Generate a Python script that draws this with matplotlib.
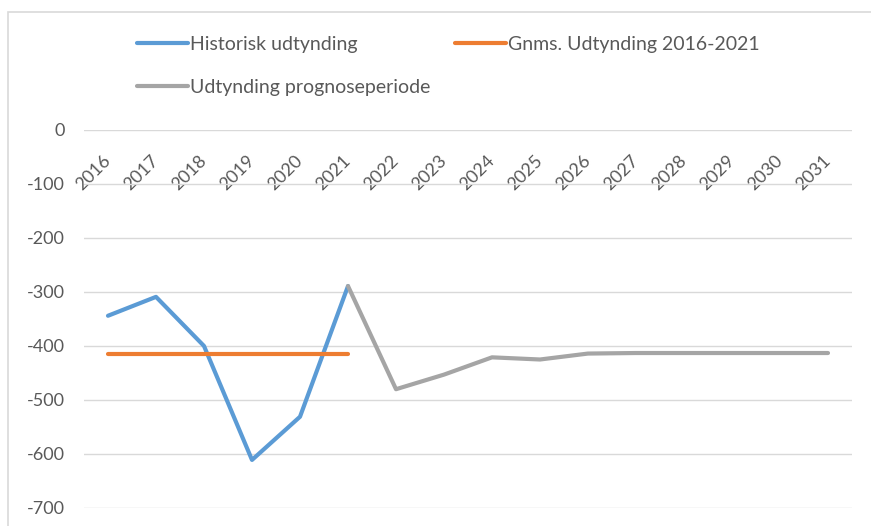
import matplotlib
matplotlib.use("Agg")
import matplotlib.pyplot as plt
from matplotlib.patches import Rectangle
import numpy as np

years = [str(y) for y in range(2016, 2032)]
hist_values = [-344, -309, -400, -611, -531, -289]          # 2016-2021
avg_value = -414                                              # 2016-2021 average
prog_values = [-289, -480, -453, -421, -425, -414, -413, -413, -413, -413, -413]  # 2021-2031
y_ticks = [0, -100, -200, -300, -400, -500, -600, -700]

plt.rcParams['font.family'] = ['Lato', 'DejaVu Sans']

W, H = 871, 526
fig = plt.figure(figsize=(W / 100, H / 100), dpi=100)
fig.patch.set_facecolor('white')

# chart border
fig.add_artist(Rectangle((8 / W, -0.05), 1.2, (H - 12) / H + 0.05,
                         transform=fig.transFigure, fill=False,
                         edgecolor='#d9d9d9', linewidth=1.2))

left, right, top, bottom = 84, 852, 130, 508
ax = fig.add_axes([left / W, (H - bottom) / H, (right - left) / W, (bottom - top) / H])

x = np.arange(len(years))
blue, orange, grey = '#5B9BD5', '#ED7D31', '#A5A5A5'
lw = 3.0

l1, = ax.plot(x[:len(hist_values)], hist_values, color=blue, lw=lw,
              solid_capstyle='round', solid_joinstyle='round', label='Historisk udtynding', zorder=3)
l2, = ax.plot(x[:len(hist_values)], [avg_value] * len(hist_values), color=orange, lw=lw,
              solid_capstyle='round', label='Gnms. Udtynding 2016-2021', zorder=4)
l3, = ax.plot(x[len(hist_values) - 1:], prog_values, color=grey, lw=lw,
              solid_capstyle='round', solid_joinstyle='round', label='Udtynding prognoseperiode', zorder=3)

ax.set_xlim(-0.5, len(years) - 0.5)
ax.set_ylim(-700, 0)
ax.set_yticks(y_ticks)
ax.set_yticklabels([str(v) for v in y_ticks])
ax.grid(axis='y', color='#d9d9d9', linewidth=1)
ax.set_axisbelow(True)
for s in ax.spines.values():
    s.set_visible(False)

ax.set_xticks(x)
ax.tick_params(axis='x', top=False, bottom=False, labeltop=True, labelbottom=False,
               length=0, pad=-20, colors='#595959', labelsize=13)
ax.set_xticklabels(years, rotation=45, ha='right', va='center', rotation_mode='anchor')
ax.tick_params(axis='y', length=0, pad=14, colors='#595959', labelsize=13)

fs = 14
fig.legend([l1, l3, l2], [l1.get_label(), l3.get_label(), l2.get_label()],
           ncol=2, loc='upper left', bbox_to_anchor=(137 / W, 1 - 36 / H),
           bbox_transform=fig.transFigure, frameon=False, fontsize=fs,
           handlelength=2.6, handletextpad=0.1, columnspacing=1.3,
           labelspacing=1.35, borderaxespad=0, borderpad=0, labelcolor='#595959')

fig.savefig('out.png', dpi=100, facecolor='white')
